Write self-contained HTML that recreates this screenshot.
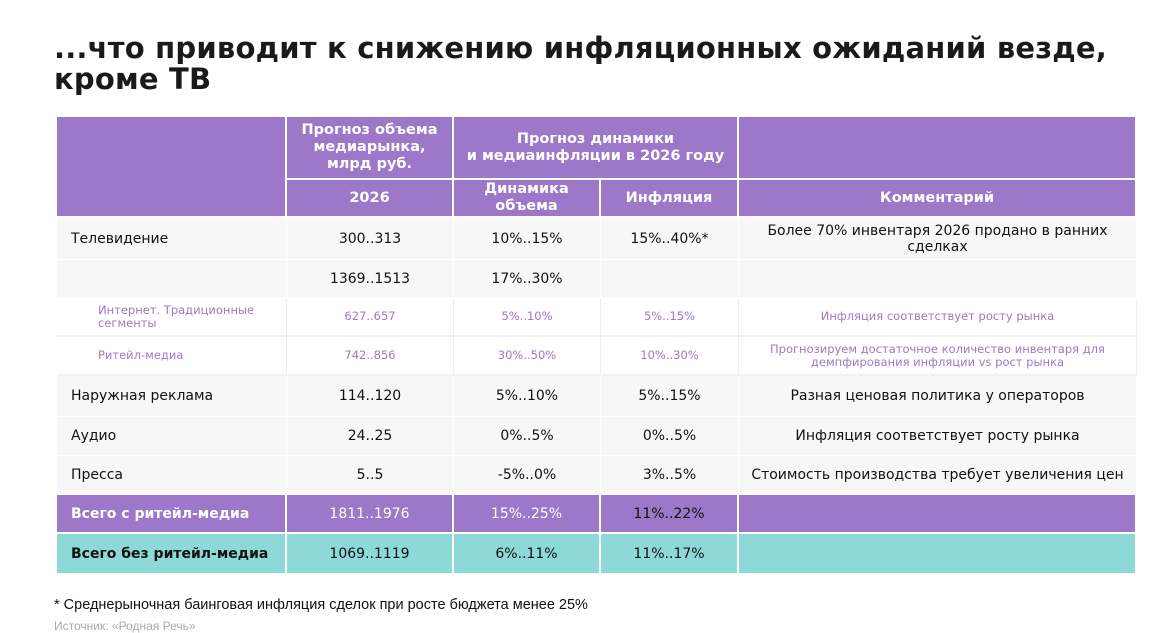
<!DOCTYPE html>
<html><head><meta charset="utf-8"><style>
body{margin:0;width:1176px;height:630px;background:#fff;font-family:"DejaVu Sans","Liberation Sans",sans-serif;position:relative;overflow:hidden}
.t{position:absolute;left:54px;top:33px;font-size:29px;font-weight:bold;line-height:31px;color:#1a1a1a;letter-spacing:0.2px}
.c{position:absolute;display:flex;align-items:center;justify-content:center;text-align:center;box-sizing:border-box;font-size:14px;color:#111;line-height:16px}
.h{background:#9e78c8;color:#fff;font-weight:bold;border-right:2px solid #fff;border-bottom:2px solid #fff;font-size:14.5px;line-height:17px}
.l{justify-content:flex-start;padding-left:14px}
.g{background:#f7f7f7;border-right:1px solid #fff;border-bottom:1px solid #fff}
.w{background:#fff;border-right:1px solid #eee;border-bottom:2px solid #f2f2f2}
.p{color:#9e78c8;font-size:11.5px;line-height:13px}
.tp{background:#9e78c8;color:#fff;border-right:2px solid #fff;border-bottom:2px solid #fff}
.tt{background:#8dd9d8;color:#111;border-right:2px solid #fff}
.n{position:absolute;left:54px;font-size:14.5px;font-family:"Liberation Sans",sans-serif}
</style></head><body>
<div class="t">...что приводит к снижению инфляционных ожиданий везде,<br>кроме ТВ</div>
<div id="tbl"></div>
<div class="n" style="top:597px;color:#111">* Среднерыночная баинговая инфляция сделок при росте бюджета менее 25%</div>
<div class="n" style="top:619px;color:#aaa;font-size:12px">Источник: «Родная Речь»</div>
<script>
const xs=[57,287,454,601,739,1137];
const rowsY=[218,260,298,337,376,417,456,495,534,573];
const rowLabels=["Телевидение","","Интернет. Традиционные сегменты","Ритейл-медиа","Наружная реклама","Аудио","Пресса","Всего с ритейл-медиа","Всего без ритейл-медиа"];
const volumes=["300..313","1369..1513","627..657","742..856","114..120","24..25","5..5","1811..1976","1069..1119"];
const dynamics=["10%..15%","17%..30%","5%..10%","30%..50%","5%..10%","0%..5%","-5%..0%","15%..25%","6%..11%"];
const inflation=["15%..40%*","","5%..15%","10%..30%","5%..15%","0%..5%","3%..5%","11%..22%","11%..17%"];
const comments=["Более 70% инвентаря 2026 продано в ранних сделках","","Инфляция соответствует росту рынка","Прогнозируем достаточное количество инвентаря для демпфирования инфляции vs рост рынка","Разная ценовая политика у операторов","Инфляция соответствует росту рынка","Стоимость производства требует увеличения цен","",""];
const root=document.getElementById('tbl');
function cell(x0,x1,y0,y1,cls,html){const d=document.createElement('div');d.className='c '+cls;d.style.left=x0+'px';d.style.top=y0+'px';d.style.width=(x1-x0)+'px';d.style.height=(y1-y0)+'px';d.innerHTML=html;root.appendChild(d);return d;}
let e;
e=cell(xs[0],xs[1],117,218,'h','');


e=cell(xs[1],xs[2],117,180,'h','Прогноз объема<br>медиарынка,<br>млрд руб.');


e=cell(xs[2],xs[4],117,180,'h','Прогноз динамики<br>и медиаинфляции в 2026 году');


e=cell(xs[4],xs[5],117,180,'h','');


e=cell(xs[1],xs[2],180,218,'h','2026');


e=cell(xs[2],xs[3],180,218,'h','Динамика<br>объема');


e=cell(xs[3],xs[4],180,218,'h','Инфляция');


e=cell(xs[4],xs[5],180,218,'h','Комментарий');


rowLabels.forEach((lab,i)=>{
  const y0=rowsY[i],y1=rowsY[i+1];
  let cls='g';
  if(i===2||i===3)cls='w p';
  if(i===7)cls='tp';
  if(i===8)cls='tt';
  const vals=[lab,volumes[i],dynamics[i],inflation[i],comments[i]];
  vals.forEach((v,j)=>{
    let c=cls;
    if(j===0)c+=' l';
    const d=cell(xs[j],xs[j+1],y0,y1,c,v);
    if(j===0&&(i===2||i===3)){d.style.paddingLeft='41px';d.style.textAlign='left';}
    if(j===0&&i>=7)d.style.fontWeight='bold';
    if(i===7&&j===3)d.style.color='#111';
    if(j===4&&i!==2&&i!==3)d.style.padding='0 8px';
    if(j===4&&i===0)d.style.padding='0 16px';
    if(j===4&&i===3)d.style.padding='0 30px';
    
    
  });
});
</script>
</body></html>
